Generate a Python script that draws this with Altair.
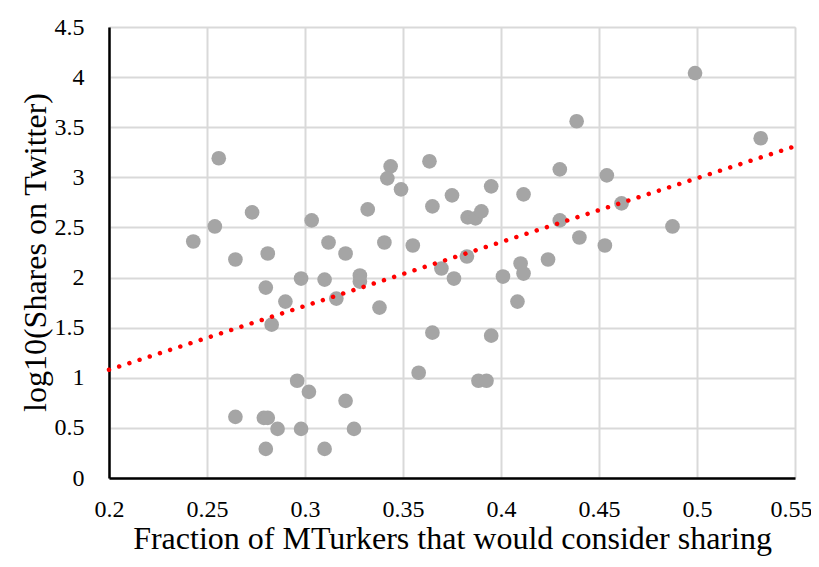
import altair as alt
import pandas as pd

frac = [0.243, 0.254, 0.256, 0.2645, 0.2645, 0.273, 0.280, 0.281, 0.290, 0.298,
        0.310, 0.312, 0.3207, 0.328, 0.328, 0.316, 0.3405, 0.355, 0.338, 0.283,
        0.365, 0.358, 0.3696, 0.376, 0.296, 0.302, 0.3207, 0.279, 0.281, 0.286,
        0.298, 0.325, 0.280, 0.310, 0.3437, 0.342, 0.349, 0.3635, 0.375, 0.365,
        0.332, 0.3034, 0.383, 0.387, 0.390, 0.395, 0.4115, 0.430, 0.4386, 0.454,
        0.4615, 0.430, 0.440, 0.453, 0.4875, 0.499, 0.5325, 0.3826, 0.401, 0.410,
        0.4115, 0.4084, 0.424, 0.395, 0.3885, 0.3926]
shares = [2.36, 2.51, 3.19, 2.18, 0.61, 2.65, 1.90, 2.24, 1.76, 1.99,
          1.98, 2.35, 2.24, 2.02, 1.96, 1.79, 2.35, 2.32, 1.70, 1.53,
          1.45, 1.05, 2.09, 1.99, 0.97, 0.86, 0.77, 0.60, 0.60, 0.49,
          0.49, 0.49, 0.29, 0.29, 3.11, 2.99, 2.88, 3.16, 2.82, 2.71,
          2.68, 2.57, 2.60, 2.59, 2.66, 2.91, 2.83, 3.08, 3.56, 3.02,
          2.74, 2.57, 2.40, 2.32, 2.51, 4.04, 3.39, 2.21, 2.01, 2.14,
          2.04, 1.76, 2.18, 1.42, 0.97, 0.97]

trend_x = [0.2, 0.55]
trend_y = [1.08, 3.31]

x_ticks = [0.2, 0.25, 0.3, 0.35, 0.4, 0.45, 0.5, 0.55]
y_ticks = [0, 0.5, 1, 1.5, 2, 2.5, 3, 3.5, 4, 4.5]

pts = pd.DataFrame({"x": frac, "y": shares})
trend = pd.DataFrame({"x": trend_x, "y": trend_y})

FONT = "Liberation Serif"

xscale = alt.Scale(domain=[0.2, 0.55], nice=False, zero=False)
yscale = alt.Scale(domain=[0, 4.5], nice=False)

xaxis = alt.Axis(values=x_ticks, format="~g", title="Fraction of MTurkers that would consider sharing",
                 grid=True, gridColor="#d9d9d9", gridWidth=2, ticks=False,
                 domainColor="black", domainWidth=2.5, labelFont=FONT, labelFontSize=24,
                 labelColor="black", labelPadding=38, labelBaseline="alphabetic", labelFlush=False,
                 labelOffset=alt.condition("datum.value >= 0.549", alt.value(-4), alt.value(0)),
                 titleFont=FONT, titleFontSize=32, titleFontWeight="normal", titleColor="black",
                 titleBaseline="alphabetic", titleY=70)
yaxis = alt.Axis(values=y_ticks, format="~g", title="log10(Shares on Twitter)",
                 grid=True, gridColor="#d9d9d9", gridWidth=2, ticks=False,
                 domainColor="black", domainWidth=2.5, labelFont=FONT, labelFontSize=24,
                 labelColor="black", labelPadding=25, labelFlush=False,
                 titleFont=FONT, titleFontSize=32, titleFontWeight="normal", titleColor="black",
                 titleX=-74, titleY=225, titleAlign="center", titleBaseline="middle")

points = alt.Chart(pts).mark_circle(size=215, color="#a5a5a5", opacity=1).encode(
    x=alt.X("x:Q", scale=xscale, axis=xaxis),
    y=alt.Y("y:Q", scale=yscale, axis=yaxis),
)

line = alt.Chart(trend).mark_line(color="#ff0000", strokeWidth=4.5, strokeDash=[0.01, 10.7],
                                  strokeCap="round").encode(
    x=alt.X("x:Q", scale=xscale),
    y=alt.Y("y:Q", scale=yscale),
)

chart = alt.layer(points, line).properties(
    width=686, height=451,
    autosize=alt.AutoSizeParams(type="none"),
    padding={"left": 101, "top": 19, "right": 16, "bottom": 81},
).configure_view(stroke=None).configure(background="white")

chart.save("out.html", embed_options={"renderer": "svg", "actions": False})
